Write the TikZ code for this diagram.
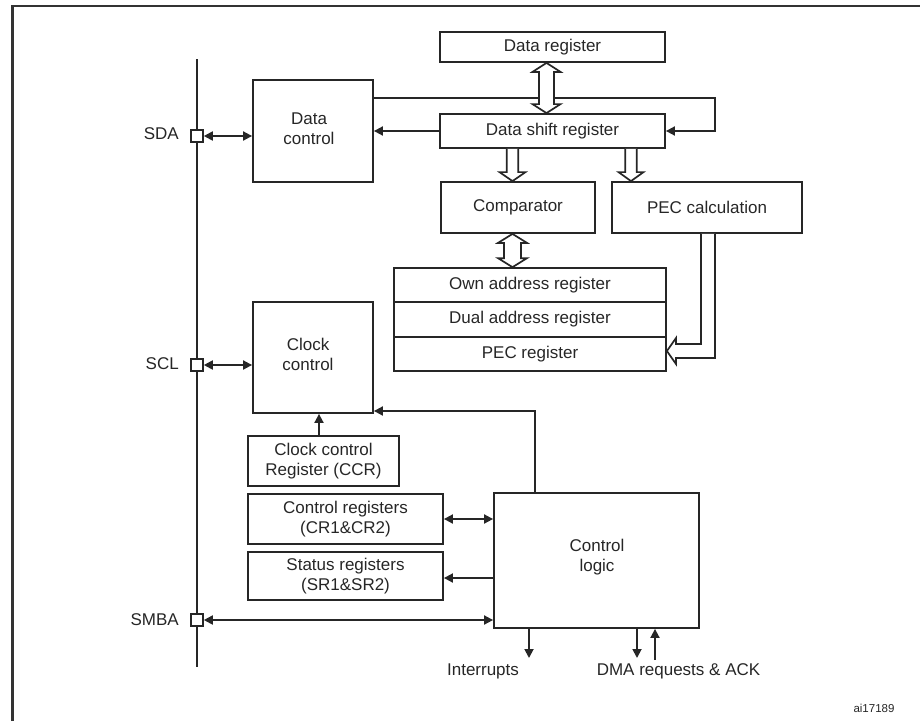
\documentclass[tikz,border=0pt]{standalone}
\usepackage{fontspec}
\setmainfont{Liberation Sans}
\usetikzlibrary{arrows.meta,calc}
\newcommand\hollowDbl[5]{%
  \coordinate (ht) at (#1,0 |- #2);
  \coordinate (hb) at (#1,0 |- #3);
  \draw[hollow] (ht) -- ($(ht)+(#5,9)$) -- ($(ht)+(#4,9)$) -- ($(hb)+(#4,-9)$) -- ($(hb)+(#5,-9)$) -- (hb)
    -- ($(hb)+(-#5,-9)$) -- ($(hb)+(-#4,-9)$) -- ($(ht)+(-#4,9)$) -- ($(ht)+(-#5,9)$) -- cycle;}
\newcommand\hollowDown[5]{%
  \coordinate (ht) at (#1,0 |- #2);
  \coordinate (hb) at (#1,0 |- #3);
  \draw[hollow] ($(ht)+(-#4,0)$) -- ($(hb)+(-#4,-9)$) -- ($(hb)+(-#5,-9)$) -- (hb)
    -- ($(hb)+(#5,-9)$) -- ($(hb)+(#4,-9)$) -- ($(ht)+(#4,0)$);}
\begin{document}
\begin{tikzpicture}[x=1pt,y=-1pt,
  every node/.style={font=\fontsize{17}{20}\selectfont, text=black!85},
  box/.style={draw=black!85, line width=1.8pt, inner sep=0pt, align=center},
  pin/.style={draw=black!85, line width=1.6pt, fill=white, minimum size=12pt, inner sep=0pt},
  conn/.style={draw=black!85, line width=1.8pt},
  arr/.style={conn, -{Triangle[length=9pt,width=9pt]}},
  dbl/.style={conn, {Triangle[length=9pt,width=9pt]}-{Triangle[length=9pt,width=9pt]}},
  hollow/.style={draw=black!85, line width=1.7pt, fill=white, line join=miter},
  lbl/.style={inner sep=0pt}]
\useasboundingbox (0,0) rectangle (920,721);
% frame
\draw[line width=2.2pt, black!80] (12.5,721) -- (12.5,6) -- (920,6);
% bus
\draw[conn] (197,59) -- (197,667);
% boxes
\node[box, minimum width=120pt, minimum height=102pt] (dc) at (313,131) {};
\node[align=center] (dct) at (309,129) {Data\\control};
\node[box, minimum width=225pt, minimum height=30pt] (dr) at (552.5,47) {Data register};
\node[box, minimum width=225pt, minimum height=34pt] (dsr) at (552.5,131) {Data shift register};
\node[box, minimum width=154pt, minimum height=51pt] (cmp) at (518,207.5) {Comparator};
\node[box, minimum width=190pt, minimum height=51pt] (pec) at (707,207.5) {PEC calculation};
\node[box, minimum width=272pt, minimum height=34.3pt] (own) at (530,285.2) {Own address register};
\node[box, minimum width=272pt, minimum height=34.3pt] (dual) at (530,319.5) {Dual address register};
\node[box, minimum width=272pt, minimum height=34.3pt] (pecr) at (530,353.8) {PEC register};
\node[box, minimum width=120pt, minimum height=111pt] (cc) at (313,357.5) {};
\node[align=center] (cct) at (308,354) {Clock\\control};
\node[box, minimum width=151pt, minimum height=50pt] (ccr) at (323.5,461) {Clock control\\Register (CCR)};
\node[box, minimum width=195pt, minimum height=50pt] (cr) at (345.5,519) {Control registers\\(CR1\&CR2)};
\node[box, minimum width=195pt, minimum height=48pt] (sr) at (345.5,576) {Status registers\\(SR1\&SR2)};
\node[box, minimum width=205pt, minimum height=135pt] (cl) at (596.5,560.5) {};
\node[align=center] (clt) at (597,557) {Control\\logic};
% pins
\node[pin] (sda) at (197,136) {};
\node[pin] (scl) at (197,365) {};
\node[pin] (smba) at (197,620) {};
\node[lbl, anchor=east] (sdal) at (179,134) {SDA};
\node[lbl, anchor=east] (scll) at (179,364) {SCL};
\node[lbl, anchor=east] (smbal) at (179,620) {SMBA};
% bottom labels
\node[lbl] (intl) at (483,671) {Interrupts};
\node[lbl] (dmal) at (678.5,671) {DMA requests \& ACK};
\node[lbl, font=\fontsize{11.5}{13}\selectfont] (ref) at (874,708) {ai17189};
\coordinate (intend) at (529,658);
\coordinate (dmadn) at (637,658);
\coordinate (dmaup) at (655,660);
% connectors
\draw[dbl] (sda.east) -- (dc.west |- sda.east);
\draw[arr] (dc.east |- 0,98) -| (715,0 |- dsr.east) -- (dsr.east);
\draw[arr] (dsr.west) -- (dc.east |- dsr.west);
\draw[dbl] (scl.east) -- (cc.west |- scl.east);
\draw[arr] (535,0 |- cl.north) |- (cc.east |- 0,411);
\draw[arr] (319,0 |- ccr.north) -- (319,0 |- cc.south);
\draw[dbl] (cr.east) -- (cl.west |- cr.east);
\draw[arr] (cl.west |- 0,578) -- (sr.east |- 0,578);
\draw[dbl] (smba.east) -- (cl.west |- smba.east);
\draw[arr] (529,0 |- cl.south) -- (intend);
\draw[arr] (637,0 |- cl.south) -- (dmadn);
\draw[arr] (dmaup) -- (655,0 |- cl.south);
% hollow bus arrows
\hollowDbl{546.5}{dr.south}{dsr.north}{7.5}{14}
\hollowDown{512.5}{dsr.south}{cmp.north}{5.8}{13}
\hollowDown{631}{dsr.south}{pec.north}{5.8}{12.5}
\hollowDbl{512.5}{cmp.south}{own.north}{8.5}{14.5}
\coordinate (pectip) at (pecr.east |- 0,351);
\draw[hollow] (701,0 |- pec.south) -- (701,344) -- (676,344) -- (676,338) -- (pectip)
  -- (676,364) -- (676,358) -- (715,358) -- (715,0 |- pec.south);
\end{tikzpicture}
\end{document}
